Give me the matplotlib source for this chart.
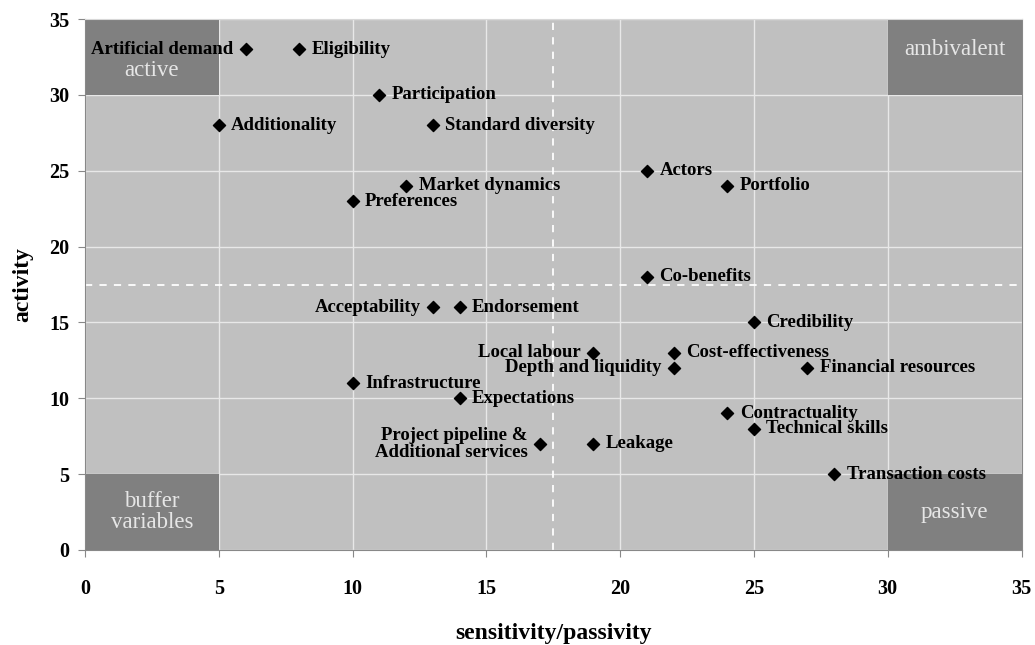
import matplotlib
matplotlib.use("Agg")
import matplotlib.pyplot as plt
from matplotlib.patches import Rectangle

plt.rcParams['font.family'] = ['Liberation Serif', 'DejaVu Serif']

# variables: (sensitivity/passivity, activity)
names = ["Artificial demand", "Eligibility", "Participation", "Additionality",
         "Standard diversity", "Actors", "Portfolio", "Market dynamics",
         "Preferences", "Co-benefits", "Acceptability", "Endorsement",
         "Credibility", "Local labour", "Cost-effectiveness", "Depth and liquidity",
         "Financial resources", "Infrastructure", "Expectations", "Contractuality",
         "Technical skills", "Project pipeline &\nAdditional services", "Leakage",
         "Transaction costs"]
passivity = [6, 8, 11, 5, 13, 21, 24, 12, 10, 21, 13, 14, 25, 19, 22, 22, 27,
             10, 14, 24, 25, 17, 19, 28]
activity = [33, 33, 30, 28, 28, 25, 24, 24, 23, 18, 16, 16, 15, 13, 13, 12, 12,
            11, 10, 9, 8, 7, 7, 5]
label_side = ["left", "right", "right", "right", "right", "right", "right", "right",
              "right", "right", "left", "right", "right", "left", "right", "left",
              "right", "right", "right", "right", "right", "left", "right", "right"]

corner_names = ["active", "ambivalent", "buffer\nvariables", "passive"]
corner_x = [0, 30, 0, 30]
corner_y = [30, 30, 0, 0]
corner_text_y = [31.6, 33, 2.5, 2.5]

fig = plt.figure(figsize=(10.35, 6.45), dpi=100)
ax = fig.add_axes([0.0821, 0.1473, 0.9049, 0.8232])
ax.set_facecolor('#c0c0c0')
ax.set_xlim(0, 35)
ax.set_ylim(0, 35)
ax.set_xticks(range(0, 36, 5))
ax.set_yticks(range(0, 36, 5))
ax.grid(True, color='#e8e8e8', linewidth=1.0)
ax.set_axisbelow(True)

for cx, cy, cname, ty in zip(corner_x, corner_y, corner_names, corner_text_y):
    ax.add_patch(Rectangle((cx, cy), 5, 5, facecolor='#808080', edgecolor='none', zorder=1.5))
    ax.text(cx + 2.5, ty, cname, ha='center', va='center', color='#e6e6e6',
            fontsize=16.5, zorder=2, linespacing=1.05)

ax.axvline(17.5, color='white', linestyle=(0, (4, 4)), linewidth=1.3, zorder=1.8)
ax.axhline(17.5, color='white', linestyle=(0, (4, 4)), linewidth=1.3, zorder=1.8)

ax.scatter(passivity, activity, marker='D', s=38, color='black', zorder=3)
for n, x, y, side in zip(names, passivity, activity, label_side):
    if side == 'right':
        ax.annotate(n, (x, y), xytext=(9, 0), textcoords='offset points',
                    ha='left', va='center', fontsize=13.5, fontweight='bold', zorder=4)
    else:
        ax.annotate(n, (x, y), xytext=(-9, 0), textcoords='offset points',
                    ha='right', va='center', fontsize=13.5, fontweight='bold',
                    multialignment='right', linespacing=1.0, zorder=4)

for s in ['left', 'bottom', 'right']:
    ax.spines[s].set_color('#888888')
ax.spines['top'].set_color('#d8d8d8')
ax.tick_params(axis='both', direction='out', color='#888888', length=5,
               labelsize=14.5, pad=6)
ax.tick_params(axis='x', pad=16)
for lab in ax.get_xticklabels() + ax.get_yticklabels():
    lab.set_fontweight('bold')

ax.set_xlabel('sensitivity/passivity', fontsize=17, fontweight='bold', labelpad=17)
ax.set_ylabel('activity', fontsize=17, fontweight='bold', labelpad=12)

fig.savefig('out.png', dpi=100)
